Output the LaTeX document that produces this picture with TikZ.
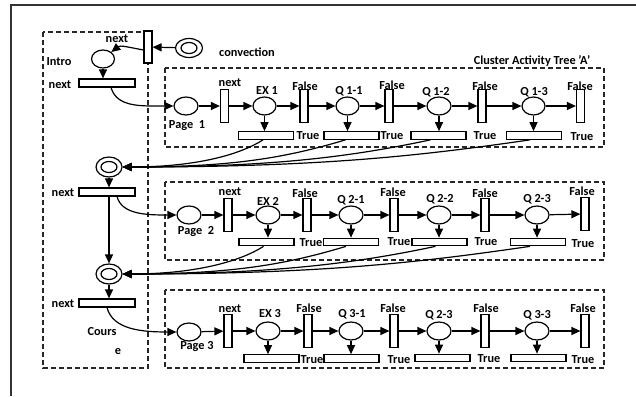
\documentclass[tikz,border=0pt]{standalone}
\usepackage{fontspec}
\setmainfont{Carlito}
\usetikzlibrary{shapes.geometric,arrows.meta}
\begin{document}
\begin{tikzpicture}[x=1pt,y=-1pt,
  place/.style={draw,ellipse,line width=1.2pt,minimum width=24pt,minimum height=18pt,inner sep=0pt,fill=white},
  dcout/.style={draw,ellipse,line width=1.2pt,minimum width=26pt,minimum height=20pt,inner sep=0pt,fill=white},
  dcin/.style={draw,ellipse,line width=1.2pt,minimum width=16pt,minimum height=11pt,inner sep=0pt},
  vbar/.style={draw,rectangle,line width=1.2pt,minimum width=8pt,minimum height=33pt,inner sep=0pt,fill=white},
  hbar/.style={draw,rectangle,line width=1.2pt,minimum width=55pt,minimum height=7.5pt,inner sep=0pt,fill=white},
  ibar/.style={draw,rectangle,line width=1.2pt,minimum width=56pt,minimum height=8pt,inner sep=0pt,fill=white},
  lbl/.style={inner sep=0pt,font=\fontsize{12.3}{14}\selectfont\bfseries},
  arr/.style={line width=1.2pt,-{Triangle[length=9pt,width=8pt]}},
  dbox/.style={draw,line width=1.4pt,black!85,dash pattern=on 5pt off 3pt},
]
\useasboundingbox (0,0) rectangle (636,396);
% outer frame
\draw[line width=1.6pt,black!80] (636,5) -- (11,5) -- (11,396);
% dashed boxes
\draw[dbox] (43,32) rectangle (148,368);
\draw[dbox] (165,68) rectangle (604,147);
\draw[dbox] (165,182) rectangle (604,260);
\draw[dbox] (165,290) rectangle (604,368);

% ---------- intro column ----------
\node[vbar,minimum height=32pt] (TB) at (148,47) {};
\node[dcout,minimum width=27pt,minimum height=19pt] (DC0) at (189,48) {};
\node[dcin] (DC0i) at (189,48) {};
\node[place,minimum width=23pt] (I0) at (103,59) {};
\node[ibar] (IB1) at (107,83) {};
\node[dcout] (DC1) at (109,167) {};
\node[dcin] (DC1i) at (109,167) {};
\node[ibar] (IB2) at (107,192) {};
\node[dcout] (DC2) at (109,274) {};
\node[dcin] (DC2i) at (109,274) {};
\node[ibar] (IB3) at (107,303) {};

\node[lbl] (Lconv) at (247,52) {convection};
\node[lbl] (Lnext0) at (117,39) {next};
\node[lbl] (Lintro) at (59,62) {Intro};
\node[lbl] (Lnext1) at (60,85) {next};
\node[lbl] (Lnext2) at (63,193) {next};
\node[lbl] (Lnext3) at (63,304) {next};
\node[lbl] (Lcours) at (102,332) {Cours};
\node[lbl] (Le) at (118,352) {e};
\node[lbl] (Lclu) at (532,61) {Cluster Activity Tree 'A'};

\draw[arr] (DC0) -- (TB);
\draw[arr] ([yshift=-3pt]TB.west) .. controls +(-16,-3) and +(9,-7) .. (I0.40);
\draw[arr] (I0.south) -- (I0.south |- IB1.north);
\draw[arr] (DC1.south) -- (DC1.south |- IB2.north);
\draw[arr] (DC2.north |- IB2.south) -- (DC2.north);
\draw[arr] (DC2.south) -- (DC2.south |- IB3.north);

% ---------- row 1 ----------
\node[place] (P1) at (186,106) {};
\node[vbar] (N1) at (224.5,106) {};
\node[place,minimum width=23pt] (EX1) at (264.5,106) {};
\node[vbar] (F11) at (304,106) {};
\node[place,minimum width=23pt] (Q11) at (347.5,106) {};
\node[vbar] (F12) at (389,106) {};
\node[place] (Q12) at (439,106) {};
\node[vbar] (F13) at (482,106) {};
\node[place,minimum width=23pt] (Q13) at (533.5,106) {};
\node[vbar] (F14) at (580.5,106) {};
\node[hbar] (T11) at (266,135.5) {};
\node[hbar] (T12) at (351.5,135.5) {};
\node[hbar] (T13) at (438.5,135.5) {};
\node[hbar] (T14) at (534,135.5) {};
\node[lbl] (LP1) at (187,126) {Page~~1};
\node[lbl] (Ln1) at (230,83) {next};
\node[lbl] (Lex1) at (267,91) {EX 1};
\node[lbl] (Lf11) at (305,86) {False};
\node[lbl] (Lq11) at (349,91) {Q 1-1};
\node[lbl] (Lf12) at (392,85) {False};
\node[lbl] (Lq12) at (436,92) {Q 1-2};
\node[lbl] (Lf13) at (485,86) {False};
\node[lbl] (Lq13) at (534,92) {Q 1-3};
\node[lbl] (Lf14) at (580,86) {False};
\node[lbl] (Lt11) at (308,136) {True};
\node[lbl] (Lt12) at (392,136) {True};
\node[lbl] (Lt13) at (485,136) {True};
\node[lbl] (Lt14) at (582,137) {True};
\foreach \a/\b in {P1/N1,N1/EX1,EX1/F11,F11/Q11,Q11/F12,F12/Q12,Q12/F13,F13/Q13,Q13/F14}
  \draw[arr] (\a) -- (\b);
\foreach \a/\b in {EX1/T11,Q11/T12,Q12/T13,Q13/T14}
  \draw[arr] (\a.south) -- (\a.south |- \b.north);
\draw[arr] ([xshift=-3pt]T11.south) .. controls +(-25,16) and +(70,0) .. (DC1.east);
\draw[arr] ([xshift=-6pt]T12.south) .. controls +(-60,18) and +(110,0) .. (DC1.east);
\draw[arr] ([xshift=-8pt]T13.south) .. controls +(-80,17) and +(150,0) .. (DC1.east);
\draw[arr] ([xshift=-4pt]T14.south) .. controls +(-110,16) and +(200,0) .. (DC1.east);

% ---------- row 2 ----------
\node[place] (P2) at (189,215) {};
\node[vbar] (N2) at (228,215) {};
\node[place] (EX2) at (268,215) {};
\node[vbar] (F21) at (307,215) {};
\node[place] (Q21) at (351,215) {};
\node[vbar] (F22) at (394,215) {};
\node[place] (Q22) at (439,215) {};
\node[vbar] (F23) at (485,215) {};
\node[place] (Q23) at (537,215) {};
\node[vbar] (F24) at (585,214) {};
\node[hbar] (T21) at (266.5,242) {};
\node[hbar] (T22) at (351,242) {};
\node[hbar] (T23) at (439.5,242) {};
\node[hbar] (T24) at (538,242) {};
\node[lbl] (LP2) at (196,232) {Page~~2};
\node[lbl] (Ln2) at (230,192) {next};
\node[lbl] (Lex2) at (268,201) {EX 2};
\node[lbl] (Lf21) at (305,193) {False};
\node[lbl] (Lq21) at (351,200) {Q 2-1};
\node[lbl] (Lf22) at (393,192) {False};
\node[lbl] (Lq22) at (440,199) {Q 2-2};
\node[lbl] (Lf23) at (485,193) {False};
\node[lbl] (Lq23) at (537,199) {Q 2-3};
\node[lbl] (Lf24) at (582,191) {False};
\node[lbl] (Lt21) at (311,243) {True};
\node[lbl] (Lt22) at (399,242) {True};
\node[lbl] (Lt23) at (486,242) {True};
\node[lbl] (Lt24) at (583,244) {True};
\foreach \a/\b in {P2/N2,N2/EX2,EX2/F21,F21/Q21,Q21/F22,F22/Q22,Q22/F23,F23/Q23,Q23/F24}
  \draw[arr] (\a) -- (\b);
\foreach \a/\b in {EX2/T21,Q21/T22,Q22/T23,Q23/T24}
  \draw[arr] (\a.south) -- (\a.south |- \b.north);
\draw[arr] ([xshift=-3pt]T21.south) .. controls +(-25,16) and +(70,0) .. (DC2.east);
\draw[arr] ([xshift=-5pt]T22.south) .. controls +(-60,18) and +(110,0) .. (DC2.east);
\draw[arr] ([xshift=-4pt]T23.south) .. controls +(-80,17) and +(150,0) .. (DC2.east);
\draw[arr] ([xshift=-8pt]T24.south) .. controls +(-110,16) and +(200,0) .. (DC2.east);

% ---------- row 3 ----------
\node[place] (P3) at (189,332) {};
\node[vbar] (N3) at (228,331) {};
\node[place] (EX3) at (268,331) {};
\node[vbar] (F31) at (308,331) {};
\node[place] (Q31) at (351,331) {};
\node[vbar] (F32) at (394,331) {};
\node[place] (Q32) at (439,331) {};
\node[vbar] (F33) at (485,331) {};
\node[place] (Q33) at (537,331) {};
\node[vbar] (F34) at (585,331) {};
\node[hbar] (T31) at (271.5,358.5) {};
\node[hbar] (T32) at (351.5,358.5) {};
\node[hbar] (T33) at (442.5,358) {};
\node[hbar] (T34) at (538.5,358) {};
\node[lbl] (LP3) at (197,347) {Page 3};
\node[lbl] (Ln3) at (230,309) {next};
\node[lbl] (Lex3) at (270,314) {EX 3};
\node[lbl] (Lf31) at (309,308) {False};
\node[lbl] (Lq31) at (352,314) {Q 3-1};
\node[lbl] (Lf32) at (393,308) {False};
\node[lbl] (Lq32) at (439,315) {Q 2-3};
\node[lbl] (Lf33) at (486,308) {False};
\node[lbl] (Lq33) at (537,315) {Q 3-3};
\node[lbl] (Lf34) at (583,308) {False};
\node[lbl] (Lt31) at (312,360) {True};
\node[lbl] (Lt32) at (399,360) {True};
\node[lbl] (Lt33) at (489,359) {True};
\node[lbl] (Lt34) at (583,360) {True};
\foreach \a/\b in {P3/N3,N3/EX3,EX3/F31,F31/Q31,Q31/F32,F32/Q32,Q32/F33,F33/Q33,Q33/F34}
  \draw[arr] (\a) -- (\b);
\foreach \a/\b in {EX3/T31,Q31/T32,Q32/T33,Q33/T34}
  \draw[arr] (\a.south) -- (\a.south |- \b.north);

% ---------- intro bars to pages ----------
\draw[arr] ([xshift=4pt]IB1.south) .. controls +(6,20) and +(-32,0) .. (P1.west);
\draw[arr] ([xshift=10pt]IB2.south) .. controls +(5,18) and +(-30,0) .. (P2.west);
\draw[arr] (IB3.south) .. controls +(6,22) and +(-35,0) .. (P3.west);
\end{tikzpicture}
\end{document}
